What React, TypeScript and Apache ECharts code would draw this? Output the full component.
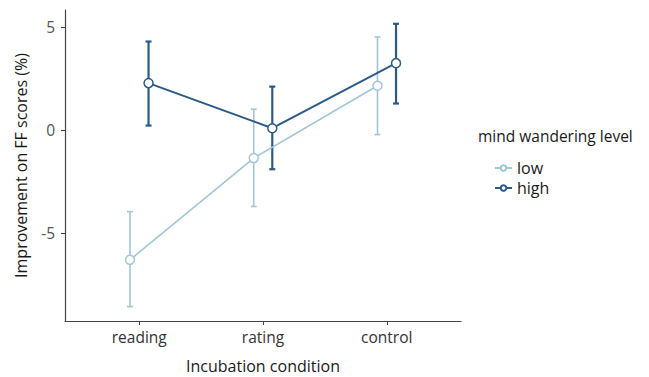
import React, { useEffect, useRef } from "react";
import * as echarts from "echarts";

const categories = ["reading", "rating", "control"];
const seriesNames = ["low", "high"];
const lowMean = [-6.31, -1.37, 2.14];
const lowUpper = [-3.97, 1.0, 4.51];
const lowLower = [-8.58, -3.72, -0.23];
const highMean = [2.27, 0.08, 3.24];
const highUpper = [4.29, 2.1, 5.15];
const highLower = [0.21, -1.91, 1.28];
const yTicks = [-5, 0, 5];

const LOW_COLOR = "#a0c6d6";
const HIGH_COLOR = "#2b5a86";
const FONT = "Open Sans";

export default function App() {
  const ref = useRef<HTMLDivElement>(null);
  useEffect(() => {
    if (!ref.current) return;
    const chart = echarts.init(ref.current, undefined, { renderer: "svg" });
    const dodge = 0.075;
    const groups = [
      { name: seriesNames[0], mean: lowMean, up: lowUpper, lo: lowLower, color: LOW_COLOR, off: -dodge, lw: 1.6, ew: 1.6 },
      { name: seriesNames[1], mean: highMean, up: highUpper, lo: highLower, color: HIGH_COLOR, off: dodge, lw: 2, ew: 2.2 },
    ];
    const series: any[] = [];
    groups.forEach((g) => {
      series.push({
        type: "custom",
        name: g.name + "_err",
        z: 2,
        data: categories.map((_, i) => [i + g.off, g.lo[i], g.up[i]]),
        renderItem: (params: any, api: any) => {
          const x = api.value(0);
          const top = api.coord([x, api.value(2)]);
          const bot = api.coord([x, api.value(1)]);
          const cap = 3;
          const st = { stroke: g.color, lineWidth: g.ew };
          return {
            type: "group",
            children: [
              { type: "line", shape: { x1: top[0], y1: top[1], x2: bot[0], y2: bot[1] }, style: st },
              { type: "line", shape: { x1: top[0] - cap, y1: top[1], x2: top[0] + cap, y2: top[1] }, style: st },
              { type: "line", shape: { x1: bot[0] - cap, y1: bot[1], x2: bot[0] + cap, y2: bot[1] }, style: st },
            ],
          };
        },
        silent: true,
      });
    });
    groups.forEach((g) => {
      series.push({
        type: "line",
        name: g.name,
        z: 3,
        data: categories.map((_, i) => [i + g.off, g.mean[i]]),
        symbol: "circle",
        symbolSize: 9,
        showAllSymbol: true,
        lineStyle: { color: g.color, width: g.lw },
        itemStyle: { color: "#ffffff", borderColor: g.color, borderWidth: 1.5 },
      });
    });

    chart.setOption({
      animation: false,
      backgroundColor: "#ffffff",
      textStyle: { fontFamily: FONT },
      grid: { left: 65, right: 188, top: 10, bottom: 56, outerBoundsMode: "none", containLabel: false },
      xAxis: {
        type: "value",
        min: -0.6,
        max: 2.6,
        name: "Incubation condition",
        nameLocation: "middle",
        nameGap: 37,
        nameTextStyle: { fontSize: 16, color: "#1a1a1a", fontFamily: FONT },
        splitLine: { show: false },
        axisLine: { show: true, onZero: false, lineStyle: { color: "#444", width: 1.2 } },
        axisTick: { show: true, customValues: [0, 1, 2], length: 4, lineStyle: { color: "#444" } },
        axisLabel: {
          customValues: [0, 1, 2],
          formatter: (v: number) => categories[Math.round(v)] ?? "",
          fontSize: 15.5,
          color: "#333",
          margin: 8,
          fontFamily: FONT,
        },
      },
      yAxis: {
        type: "value",
        min: -9.28,
        max: 5.82,
        name: "Improvement on FF scores (%)",
        nameLocation: "middle",
        nameGap: 36,
        nameTextStyle: { fontSize: 16, color: "#1a1a1a", fontFamily: FONT },
        splitLine: { show: false },
        axisLine: { show: true, onZero: false, lineStyle: { color: "#444", width: 1.2 } },
        axisTick: { show: true, customValues: yTicks, length: 4, lineStyle: { color: "#444" } },
        axisLabel: {
          customValues: yTicks,
          fontSize: 15.5,
          color: "#555",
          margin: 10,
          fontFamily: FONT,
        },
      },
      legend: {
        show: true,
        orient: "vertical",
        left: 489,
        top: 155,
        data: seriesNames,
        itemWidth: 17,
        itemHeight: 7,
        itemGap: 4,
        textStyle: { fontSize: 16, color: "#1a1a1a", fontFamily: FONT },
      },
      graphic: [
        {
          type: "text",
          left: 478,
          top: 128,
          style: { text: "mind wandering level", fontSize: 15.5, fill: "#1a1a1a", fontFamily: FONT },
        },
      ],
      series,
    });
    return () => chart.dispose();
  }, []);
  return <div ref={ref} style={{ position: "absolute", left: 0, top: 0, width: 649, height: 377 }} />;
}
